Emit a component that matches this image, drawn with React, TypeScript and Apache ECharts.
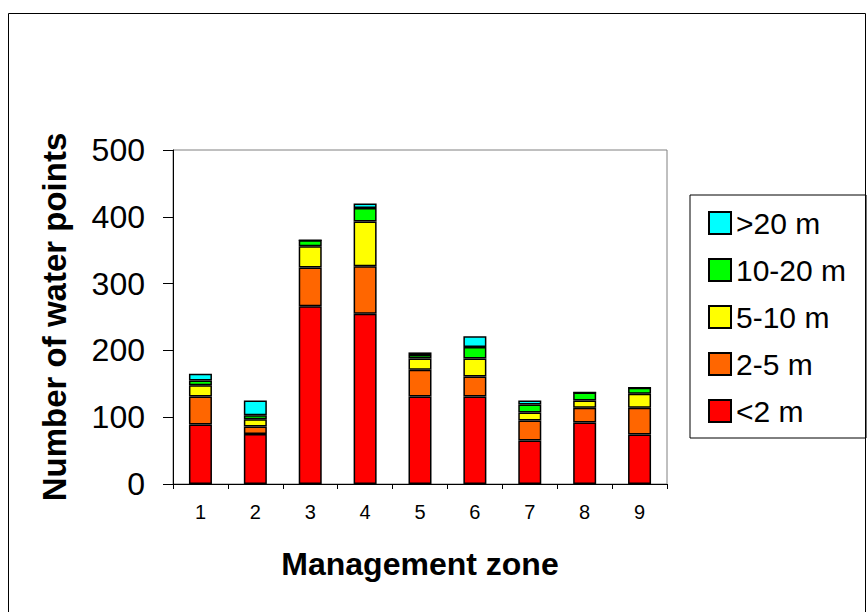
import React, { useEffect, useRef } from "react";
import * as echarts from "echarts";

const zones = ["1", "2", "3", "4", "5", "6", "7", "8", "9"];
const lt2 = [89, 75, 266, 255, 131, 131, 65, 92, 74];
const d2to5 = [42, 11, 58, 71, 40, 30, 30, 22, 40];
const d5to10 = [17, 11, 32, 67, 17, 27, 12, 11, 21];
const d10to20 = [7, 6, 9, 20, 5, 17, 12, 12, 9];
const gt20 = [10, 22, 0, 7, 4, 16, 6, 0, 0];
const yTicks = [0, 100, 200, 300, 400, 500];

const seriesDefs = [
  { name: "<2 m", data: lt2, color: "#FF0000" },
  { name: "2-5 m", data: d2to5, color: "#FF6600" },
  { name: "5-10 m", data: d5to10, color: "#FFFF00" },
  { name: "10-20 m", data: d10to20, color: "#00FF00" },
  { name: ">20 m", data: gt20, color: "#00FFFF" },
];

export default function App() {
  const ref = useRef<HTMLDivElement>(null);
  useEffect(() => {
    if (!ref.current) return;
    const chart = echarts.init(ref.current, undefined, { renderer: "svg" });
    const font = "Arial, 'Liberation Sans', Helvetica, sans-serif";
    chart.setOption({
      animation: false,
      backgroundColor: "#ffffff",
      textStyle: { fontFamily: font, color: "#000" },
      grid: {
        left: 173,
        top: 150,
        right: 200,
        bottom: 128,
        show: true,
        borderColor: "#808080",
        borderWidth: 1,
        backgroundColor: "transparent",
      },
      legend: {
        orient: "vertical",
        left: 690,
        top: 195,
        padding: [13, 20, 12, 18],
        itemGap: 17,
        itemWidth: 22,
        itemHeight: 22,
        icon: "rect",
        borderColor: "#000",
        borderWidth: 1,
        data: [">20 m", "10-20 m", "5-10 m", "2-5 m", "<2 m"],
        textStyle: { fontSize: 30, color: "#000", fontFamily: font },
      },
      xAxis: {
        type: "category",
        data: zones,
        name: "Management zone",
        nameLocation: "middle",
        nameGap: 64,
        nameTextStyle: { fontSize: 32, fontWeight: "bold", color: "#000", fontFamily: font, verticalAlign: "top" },
        axisLine: { lineStyle: { color: "#000", width: 1 } },
        axisTick: { show: true, alignWithLabel: false, length: 5, lineStyle: { color: "#000" } },
        axisLabel: { fontSize: 20, color: "#000", margin: 18, fontFamily: font },
      },
      yAxis: {
        type: "value",
        min: 0,
        max: 500,
        interval: 100,
        name: "Number of water points",
        nameLocation: "middle",
        nameGap: 102,
        nameRotate: 90,
        nameTextStyle: { fontSize: 33, fontWeight: "bold", color: "#000", fontFamily: font },
        axisLine: { show: true, lineStyle: { color: "#000", width: 1 } },
        axisTick: { show: true, length: 10, lineStyle: { color: "#000" } },
        splitLine: { show: false },
        axisLabel: {
          fontSize: 32,
          color: "#000",
          margin: 28,
          fontFamily: font,
          formatter: (v: number) => (yTicks.includes(v) ? String(v) : ""),
        },
      },
      series: seriesDefs.map((s) => ({
        name: s.name,
        type: "bar",
        stack: "total",
        barWidth: 23,
        data: s.data,
        itemStyle: { color: s.color, borderColor: "#000", borderWidth: 1.5 },
      })),
      graphic: [
        {
          type: "rect",
          shape: { x: 8.5, y: 13.5, width: 857, height: 620 },
          style: { fill: "none", stroke: "#000", lineWidth: 1 },
          silent: true,
          z: -10,
        },
      ],
    });
    return () => chart.dispose();
  }, []);
  return (
    <div
      ref={ref}
      style={{ position: "fixed", left: 0, top: 0, width: 867, height: 612 }}
    />
  );
}
